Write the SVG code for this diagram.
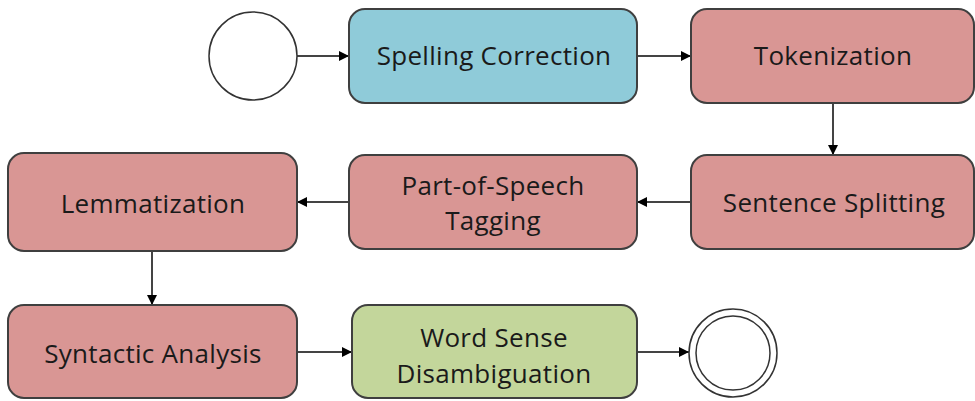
<svg xmlns="http://www.w3.org/2000/svg" width="975" height="401" viewBox="0 0 975 401">
<defs>
<marker id="arr" viewBox="0 0 10 10" refX="10" refY="5" markerWidth="10" markerHeight="10" markerUnits="userSpaceOnUse" orient="auto">
<path d="M0,0 L10,5 L0,10 z" fill="#000"/>
</marker>
<style>
.box{stroke:#3f3f3f;stroke-width:2}
.red{fill:#d99694}
.blue{fill:#8fcbd9}
.green{fill:#c3d69b}
.lbl{font-family:"Open Sans","Liberation Sans",sans-serif;font-size:26px;letter-spacing:0.3px;fill:#1a1a1a;text-anchor:middle}
.conn{stroke:#444;stroke-width:2;fill:none;marker-end:url(#arr)}
.circ{fill:#fff;stroke:#333;stroke-width:1.5}
</style>
</defs>
<rect width="975" height="401" fill="#fff"/>
<g id="connectors">
<line class="conn" x1="297" y1="56" x2="349" y2="56"/>
<line class="conn" x1="637" y1="56" x2="691" y2="56"/>
<line class="conn" x1="833" y1="103" x2="833" y2="155"/>
<line class="conn" x1="691" y1="202" x2="637" y2="202"/>
<line class="conn" x1="349" y1="202" x2="297" y2="202"/>
<line class="conn" x1="152" y1="251" x2="152" y2="305"/>
<line class="conn" x1="297" y1="352" x2="352" y2="352"/>
<line class="conn" x1="637" y1="352" x2="689" y2="352"/>
</g>
<g id="start"><circle class="circ" cx="253" cy="56" r="44"/></g>
<g id="spelling"><rect class="box blue" x="349" y="9" width="288" height="94" rx="16"/><text class="lbl" x="494" y="65">Spelling Correction</text></g>
<g id="tokenization"><rect class="box red" x="691" y="9" width="283" height="94" rx="16"/><text class="lbl" x="833" y="65">Tokenization</text></g>
<g id="sentence"><rect class="box red" x="691" y="155" width="283" height="94" rx="16"/><text class="lbl" x="834" y="212">Sentence Splitting</text></g>
<g id="pos"><rect class="box red" x="349" y="155" width="288" height="94" rx="16"/><text class="lbl" x="493" y="195">Part-of-Speech</text><text class="lbl" x="493" y="230">Tagging</text></g>
<g id="lemmatization"><rect class="box red" x="8" y="153" width="289" height="98" rx="16"/><text class="lbl" x="153" y="213">Lemmatization</text></g>
<g id="syntactic"><rect class="box red" x="8" y="305" width="289" height="93" rx="16"/><text class="lbl" x="153" y="363">Syntactic Analysis</text></g>
<g id="wsd"><rect class="box green" x="352" y="305" width="285" height="93" rx="16"/><text class="lbl" x="494" y="347">Word Sense</text><text class="lbl" x="494" y="383">Disambiguation</text></g>
<g id="end"><circle class="circ" cx="733" cy="353" r="44"/><circle class="circ" cx="733" cy="353" r="37"/></g>
</svg>
